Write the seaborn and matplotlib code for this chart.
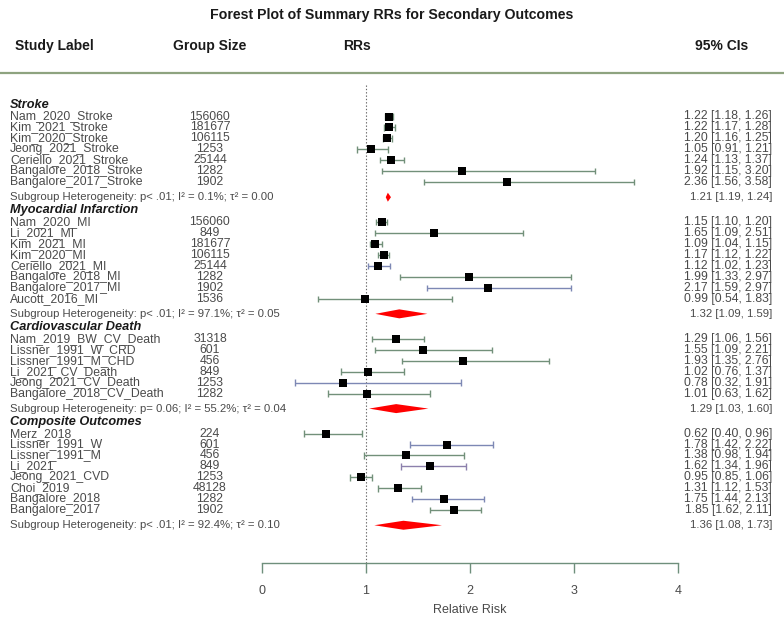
import matplotlib
matplotlib.use("Agg")
import numpy as np
import pandas as pd
import seaborn as sns
import matplotlib.pyplot as plt
from matplotlib import transforms, font_manager
from matplotlib.lines import Line2D

# ---------------- data ----------------
groups = ["Stroke", "Myocardial Infarction", "Cardiovascular Death", "Composite Outcomes"]

stroke_labels = ["Nam_2020_Stroke", "Kim_2021_Stroke", "Kim_2020_Stroke", "Jeong_2021_Stroke",
                 "Ceriello_2021_Stroke", "Bangalore_2018_Stroke", "Bangalore_2017_Stroke"]
stroke_n = [156060, 181677, 106115, 1253, 25144, 1282, 1902]
stroke_rr = [1.22, 1.22, 1.20, 1.05, 1.24, 1.92, 2.36]
stroke_lo = [1.18, 1.17, 1.16, 0.91, 1.13, 1.15, 1.56]
stroke_hi = [1.26, 1.28, 1.25, 1.21, 1.37, 3.20, 3.58]

mi_labels = ["Nam_2020_MI", "Li_2021_MI", "Kim_2021_MI", "Kim_2020_MI", "Ceriello_2021_MI",
             "Bangalore_2018_MI", "Bangalore_2017_MI", "Aucott_2016_MI"]
mi_n = [156060, 849, 181677, 106115, 25144, 1282, 1902, 1536]
mi_rr = [1.15, 1.65, 1.09, 1.17, 1.12, 1.99, 2.17, 0.99]
mi_lo = [1.10, 1.09, 1.04, 1.12, 1.02, 1.33, 1.59, 0.54]
mi_hi = [1.20, 2.51, 1.15, 1.22, 1.23, 2.97, 2.97, 1.83]

cv_labels = ["Nam_2019_BW_CV_Death", "Lissner_1991_W_CRD", "Lissner_1991_M_CHD",
             "Li_2021_CV_Death", "Jeong_2021_CV_Death", "Bangalore_2018_CV_Death"]
cv_n = [31318, 601, 456, 849, 1253, 1282]
cv_rr = [1.29, 1.55, 1.93, 1.02, 0.78, 1.01]
cv_lo = [1.06, 1.09, 1.35, 0.76, 0.32, 0.63]
cv_hi = [1.56, 2.21, 2.76, 1.37, 1.91, 1.62]

comp_labels = ["Merz_2018", "Lissner_1991_W", "Lissner_1991_M", "Li_2021", "Jeong_2021_CVD",
               "Choi_2019", "Bangalore_2018", "Bangalore_2017"]
comp_n = [224, 601, 456, 849, 1253, 48128, 1282, 1902]
comp_rr = [0.62, 1.78, 1.38, 1.62, 0.95, 1.31, 1.75, 1.85]
comp_lo = [0.40, 1.42, 0.98, 1.34, 0.85, 1.12, 1.44, 1.62]
comp_hi = [0.96, 2.22, 1.94, 1.96, 1.06, 1.53, 2.13, 2.11]

summ_rr = [1.21, 1.32, 1.29, 1.36]
summ_lo = [1.19, 1.09, 1.03, 1.08]
summ_hi = [1.24, 1.59, 1.60, 1.73]
het_p = ["p< .01", "p< .01", "p= 0.06", "p< .01"]
het_i2 = ["0.1%", "97.1%", "55.2%", "92.4%"]
het_tau2 = ["0.00", "0.05", "0.04", "0.10"]

x_ticks = [0, 1, 2, 3, 4]

# whisker colour styles (separate from data)
G, B, P = "#72907a", "#7d88b4", "#8c80ac"
line_styles = [
    [G, G, G, G, G, G, G],
    [G, G, G, G, B, G, B, G],
    [G, G, G, G, B, G],
    [G, B, G, P, G, G, B, G],
]

study_sets = [
    (stroke_labels, stroke_n, stroke_rr, stroke_lo, stroke_hi),
    (mi_labels, mi_n, mi_rr, mi_lo, mi_hi),
    (cv_labels, cv_n, cv_rr, cv_lo, cv_hi),
    (comp_labels, comp_n, comp_rr, comp_lo, comp_hi),
]

# ---------------- layout (pixel units) ----------------
W, H = 784, 618
AX_L, AX_R, AX_T, AX_B = 262, 678, 83, 563
ROW = 10.95
FIRST_HEADER = 104.5

recs, headers, summaries = [], [], []
y = FIRST_HEADER
for gi, g in enumerate(groups):
    headers.append((g, y))
    y += 12
    labs, ns, rr, lo, hi = study_sets[gi]
    for i in range(len(labs)):
        recs.append(dict(group=g, label=labs[i], n=ns[i], rr=rr[i], lo=lo[i], hi=hi[i],
                         y=y, color=line_styles[gi][i]))
        y += ROW
    y += 15 - ROW
    summaries.append(y)
    y += 13
df = pd.DataFrame(recs)

# ---------------- figure ----------------
sns.set_theme(style="white")
avail = {f.name for f in font_manager.fontManager.ttflist}
narrow = "Liberation Sans Narrow" if "Liberation Sans Narrow" in avail else "Liberation Sans"
plt.rcParams["font.family"] = ["Liberation Sans", "DejaVu Sans"]

fig = plt.figure(figsize=(W / 100, H / 100), dpi=100)
ax = fig.add_axes([AX_L / W, 1 - AX_B / H, (AX_R - AX_L) / W, (AX_B - AX_T) / H])
ax.set_xlim(x_ticks[0], x_ticks[-1])
ax.set_ylim(AX_B, AX_T)

TXT = "#4a4a4a"
SPC = "#6f8f7c"

# reference line at RR = 1
ax.axvline(1, ls=(0, (1.2, 1.8)), color="#666666", lw=0.8, zorder=1)

# CIs with caps
cap = 3.2
ax.hlines(df["y"], df["lo"], df["hi"], colors=df["color"], lw=1.0, zorder=2)
ax.vlines(df["lo"], df["y"] - cap, df["y"] + cap, colors=df["color"], lw=1.0, zorder=2)
ax.vlines(df["hi"], df["y"] - cap, df["y"] + cap, colors=df["color"], lw=1.0, zorder=2)

# point estimates
sns.scatterplot(data=df, x="rr", y="y", marker="s", s=30, color="black",
                edgecolor="black", linewidth=0, ax=ax, legend=False, zorder=3)

# summary diamonds
dh = 4.5
for i, ys in enumerate(summaries):
    ax.fill([summ_lo[i], summ_rr[i], summ_hi[i], summ_rr[i]],
            [ys, ys - dh, ys, ys + dh], color="red", lw=0, zorder=3)

# axes styling
ax.set_yticks([])
ax.set_xticks(x_ticks)
ax.set_xticklabels([str(t) for t in x_ticks])
for s in ["top", "right", "left"]:
    ax.spines[s].set_visible(False)
ax.spines["bottom"].set_color(SPC)
ax.spines["bottom"].set_linewidth(1.0)
ax.tick_params(axis="x", direction="out", length=7, width=1.0, color=SPC,
               labelcolor=TXT, labelsize=9, pad=9, bottom=True)
ax.set_xlabel("Relative Risk", fontsize=9, color=TXT, labelpad=5)
ax.set_ylabel("")

trans = transforms.blended_transform_factory(fig.transFigure, ax.transData)
fx = lambda px: px / W

# title and header row
ax.text(fx(392), 15, "Forest Plot of Summary RRs for Secondary Outcomes", transform=trans,
        ha="center", va="center", fontsize=10.2, fontweight="bold", color="#1a1a1a",
        family=[narrow, "Liberation Sans"])
hdr_kw = dict(transform=trans, va="center", fontsize=10, fontweight="bold",
              color="#1a1a1a", family=[narrow, "Liberation Sans"])
ax.text(fx(15), 46, "Study Label", ha="left", **hdr_kw)
ax.text(fx(173), 46, "Group Size", ha="left", **hdr_kw)
ax.text(fx(343), 46, "RRs", ha="left", **hdr_kw)
ax.text(fx(748), 46, "95% CIs", ha="right", **hdr_kw)
fig.add_artist(Line2D([0, 1], [1 - 73 / H] * 2, color="#8ea37f", lw=1.6))

# row texts
rkw = dict(transform=trans, va="center", fontsize=8.8, color=TXT)
skw = dict(transform=trans, va="center", fontsize=8.2, color=TXT)
for g, yh in headers:
    ax.text(fx(10), yh, g, ha="left", transform=trans, va="center", fontsize=9.2,
            fontweight="bold", fontstyle="italic", color="#1a1a1a")
for _, r in df.iterrows():
    ax.text(fx(10), r["y"], r["label"], ha="left", **rkw)
    ax.text(fx(210), r["y"], f"{r['n']}", ha="center", **rkw)
    ax.text(fx(772), r["y"], f"{r['rr']:.2f} [{r['lo']:.2f}, {r['hi']:.2f}]", ha="right", **rkw)
for i, ys in enumerate(summaries):
    ax.text(fx(10), ys, f"Subgroup Heterogeneity: {het_p[i]}; I\u00b2 = {het_i2[i]}; \u03c4\u00b2 = {het_tau2[i]}",
            ha="left", **skw)
    ax.text(fx(772), ys, f"{summ_rr[i]:.2f} [{summ_lo[i]:.2f}, {summ_hi[i]:.2f}]", ha="right", **skw)

fig.savefig("out.png", dpi=100, facecolor="white")
